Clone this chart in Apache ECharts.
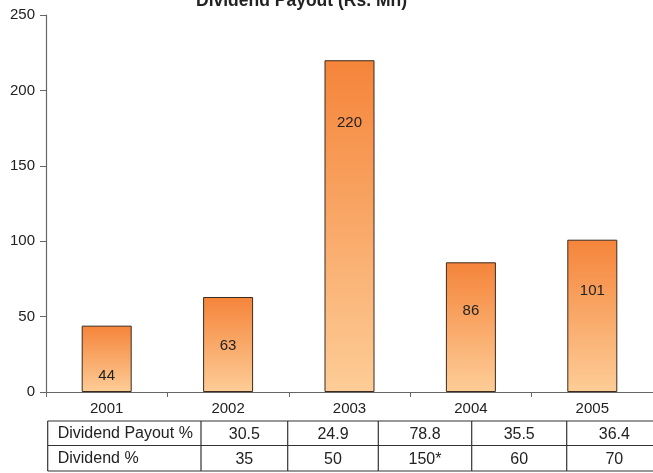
<!DOCTYPE html>
<html>
<head>
<meta charset="utf-8">
<script src="https://cdn.jsdelivr.net/npm/echarts@6/dist/echarts.min.js"></script>
<style>
html,body{margin:0;padding:0;background:#fff;}
#c{width:653px;height:473px;}
</style>
</head>
<body>
<div id="c"></div>
<script>
// ---- data ----
var years = ['2001', '2002', '2003', '2004', '2005'];
var payoutMn = [44, 63, 220, 86, 101];
var yTicks = [0, 50, 100, 150, 200, 250];
var rowLabels = ['Dividend Payout %', 'Dividend %'];
var payoutPct = ['30.5', '24.9', '78.8', '35.5', '36.4'];
var dividendPct = ['35', '50', '150*', '60', '70'];
var titleText = 'Dividend Payout (Rs. Mn)';

// ---- style / layout ----
var FONT = "'Liberation Sans', Arial, Helvetica, sans-serif";
var labelDist = [43, 41, 55, 41, 44];
var colX = [47.7, 201, 287.7, 378.3, 471.7, 566.7, 662];
var rowY = [421, 445.5, 471];

var chart = echarts.init(document.getElementById('c'), null, {renderer: 'canvas'});

var barData = payoutMn.map(function (v, i) {
  return { value: v, label: { distance: labelDist[i] } };
});

var graphics = [];
var lineStyle = { stroke: '#333', lineWidth: 1.2 };
rowY.forEach(function (y) {
  graphics.push({ type: 'line', shape: { x1: colX[0], y1: y, x2: colX[colX.length - 1], y2: y }, style: lineStyle, silent: true });
});
colX.forEach(function (x) {
  graphics.push({ type: 'line', shape: { x1: x, y1: rowY[0], x2: x, y2: rowY[rowY.length - 1] }, style: lineStyle, silent: true });
});
var rows = [payoutPct, dividendPct];
rows.forEach(function (vals, r) {
  var cy = (rowY[r] + rowY[r + 1]) / 2 + 1;
  graphics.push({
    type: 'text', left: colX[0] + 10, top: cy - 9, silent: true,
    style: { text: rowLabels[r], font: '16px ' + FONT, fill: '#222', textVerticalAlign: 'top' }
  });
  vals.forEach(function (t, i) {
    var cx = (colX[i + 1] + colX[i + 2]) / 2;
    graphics.push({
      type: 'text', x: cx, y: cy, silent: true,
      style: { text: t, font: '16px ' + FONT, fill: '#222', textAlign: 'center', textVerticalAlign: 'middle' }
    });
  });
});

chart.setOption({
  animation: false,
  backgroundColor: '#fff',
  title: {
    text: titleText,
    left: 196, top: -8,
    padding: 0,
    textStyle: { fontFamily: FONT, fontSize: 17.5, fontWeight: 'bold', color: '#222' }
  },
  grid: { left: 46, top: 15, width: 617, height: 377, containLabel: false },
  xAxis: {
    type: 'category',
    data: years,
    boundaryGap: true,
    axisLine: { lineStyle: { color: '#666', width: 1.2 } },
    axisTick: { show: true, length: 5, lineStyle: { color: '#666' } },
    axisLabel: { color: '#222', fontFamily: FONT, fontSize: 15, margin: 9 }
  },
  yAxis: {
    type: 'value',
    min: yTicks[0], max: yTicks[yTicks.length - 1], interval: yTicks[1] - yTicks[0],
    axisLine: { show: true, lineStyle: { color: '#666', width: 1.2 } },
    axisTick: { show: true, length: 6, lineStyle: { color: '#666' } },
    splitLine: { show: false },
    axisLabel: { color: '#222', fontFamily: FONT, fontSize: 15, margin: 11 }
  },
  series: [{
    type: 'bar',
    data: barData,
    barWidth: 50,
    itemStyle: {
      color: new echarts.graphic.LinearGradient(0, 0, 0, 1, [
        { offset: 0, color: '#F5843A' },
        { offset: 1, color: '#FDCD97' }
      ]),
      borderColor: '#3b2a1e',
      borderWidth: 1
    },
    label: {
      show: true, position: 'insideTop',
      color: '#222', fontFamily: FONT, fontSize: 15
    }
  }],
  graphic: graphics
});
</script>
</body>
</html>
